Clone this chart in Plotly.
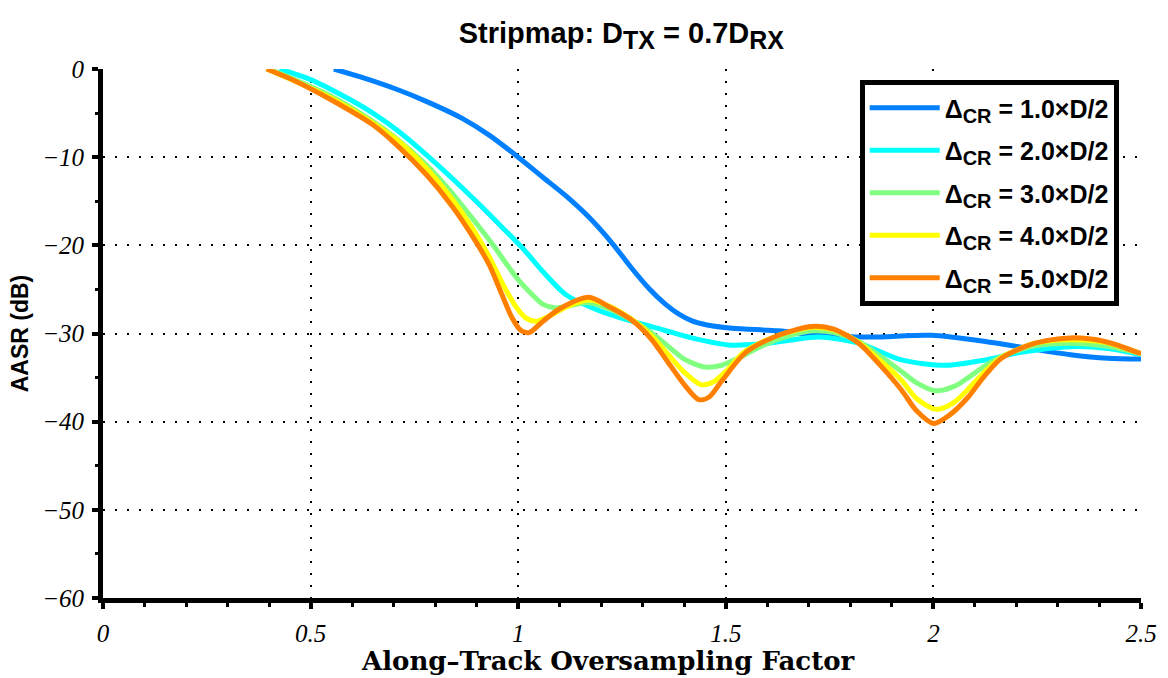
import plotly.graph_objects as go

# Along-track oversampling factor vs AASR for several cross-track spacings
labels = ["1.0", "2.0", "3.0", "4.0", "5.0"]
colors = ["#0080FF", "#00FFFF", "#80FF80", "#FFFF00", "#FF8000"]

x_10 = [0.556, 0.62, 0.707, 0.78, 0.865, 0.93, 1.0, 1.06, 1.115, 1.17, 1.227, 1.27,
        1.315, 1.355, 1.387, 1.42, 1.452, 1.515, 1.627, 1.724, 1.85, 1.995, 2.125,
        2.23, 2.33, 2.42, 2.5]
y_10 = [0, -0.9, -2.3, -3.7, -5.6, -7.5, -10.0, -12.3, -14.4, -16.8, -19.8, -22.4,
        -24.9, -26.7, -27.8, -28.6, -29.0, -29.4, -29.7, -30.2, -30.4, -30.2, -30.9,
        -31.7, -32.4, -32.8, -32.9]

x_20 = [0.425, 0.5, 0.6, 0.65, 0.707, 0.785, 0.89, 0.954, 1.014, 1.06, 1.115, 1.195,
        1.274, 1.35, 1.418, 1.507, 1.58, 1.65, 1.724, 1.82, 1.923, 2.03, 2.125, 2.204,
        2.33, 2.42, 2.5]
y_20 = [0, -1.2, -3.6, -5.0, -6.9, -10.0, -14.6, -17.6, -20.5, -23.0, -25.6, -27.4,
        -28.6, -29.6, -30.5, -31.3, -31.2, -30.8, -30.4, -31.1, -33.0, -33.6, -33.0,
        -32.2, -31.5, -31.7, -32.4]

x_30 = [0.40, 0.546, 0.649, 0.707, 0.779, 0.834, 0.889, 0.94, 0.97, 1.0, 1.034, 1.06,
        1.09, 1.12, 1.17, 1.22, 1.274, 1.32, 1.36, 1.40, 1.45, 1.49, 1.53, 1.587, 1.65,
        1.71, 1.76, 1.82, 1.87, 1.923, 1.96, 2.005, 2.05, 2.084, 2.12, 2.164, 2.245,
        2.33, 2.413, 2.5]
y_30 = [0, -3.0, -5.9, -7.9, -10.9, -13.7, -16.9, -20.0, -22.0, -23.9, -25.6, -26.7,
        -27.1, -26.9, -26.5, -27.2, -28.5, -29.9, -31.4, -32.9, -33.8, -33.6, -32.8,
        -31.4, -30.3, -29.7, -29.9, -30.9, -32.5, -34.3, -35.6, -36.5, -36.0, -35.0,
        -33.8, -32.6, -31.4, -31.1, -31.4, -32.3]

x_40 = [0.395, 0.546, 0.63, 0.707, 0.78, 0.84, 0.889, 0.93, 0.965, 0.995, 1.02, 1.045,
        1.08, 1.12, 1.17, 1.22, 1.274, 1.32, 1.36, 1.40, 1.44, 1.47, 1.50, 1.547,
        1.627, 1.71, 1.76, 1.82, 1.87, 1.923, 1.96, 2.007, 2.05, 2.084, 2.12, 2.164,
        2.245, 2.33, 2.413, 2.5]
y_40 = [0, -3.2, -5.5, -8.0, -11.3, -14.7, -18.0, -21.3, -24.6, -27.0, -28.3, -28.6,
        -27.9, -26.9, -26.2, -26.9, -28.4, -30.2, -32.3, -34.4, -35.8, -35.5, -34.3,
        -32.0, -30.2, -29.3, -29.6, -31.0, -33.0, -35.3, -37.4, -38.6, -37.8, -36.3,
        -34.5, -32.7, -31.1, -30.7, -31.0, -32.3]

x_50 = [0.394, 0.46, 0.546, 0.649, 0.707, 0.779, 0.84, 0.889, 0.93, 0.96, 0.985, 1.005,
        1.026, 1.06, 1.1, 1.17, 1.22, 1.274, 1.32, 1.36, 1.40, 1.435, 1.46, 1.49, 1.547,
        1.627, 1.707, 1.76, 1.82, 1.87, 1.923, 1.96, 2.0, 2.04, 2.084, 2.12, 2.164,
        2.245, 2.33, 2.413, 2.5]
y_50 = [0, -1.3, -3.4, -6.3, -8.6, -12.0, -15.5, -18.9, -22.2, -25.5, -28.2, -29.6,
        -29.9, -28.6, -27.2, -25.9, -27.0, -28.5, -30.6, -33.2, -35.8, -37.5, -37.2,
        -35.4, -32.2, -30.2, -29.2, -29.5, -31.1, -33.5, -36.4, -38.8, -40.2, -39.2,
        -37.2, -35.0, -32.8, -31.1, -30.5, -30.9, -32.3]

series = [(x_10, y_10), (x_20, y_20), (x_30, y_30), (x_40, y_40), (x_50, y_50)]

x_ticks = [0, 0.5, 1, 1.5, 2, 2.5]
x_ticktext = ["0", "0.5", "1", "1.5", "2", "2.5"]
y_ticks = [0, -10, -20, -30, -40, -50, -60]


def sub(txt, px):
    return f'<sub><span style="font-size:{px}px">{txt}</span></sub>'


fig = go.Figure()
for (xs, ys), lab, col in zip(series, labels, colors):
    fig.add_trace(go.Scatter(
        x=xs, y=ys, mode="lines",
        line=dict(color=col, width=5, shape="spline", smoothing=0.8),
        name=f"Δ{sub('CR', 20)} = {lab}×D/2",
        legendgroup=lab,
    ))

tick_font = dict(family="Liberation Serif", size=25, color="black", style="italic")

fig.update_layout(
    width=1168, height=678,
    margin=dict(l=103, r=27, t=69, b=80, autoexpand=False),
    paper_bgcolor="white", plot_bgcolor="white",
    title=dict(
        text=f"Stripmap: D{sub('TX', 25)} = 0.7D{sub('RX', 25)}",
        font=dict(family="Liberation Sans", size=29, color="black", weight="bold"),
        x=0.532, xanchor="center", y=0.952, yanchor="middle",
    ),
    legend=dict(
        x=0.729, y=0.979, xanchor="left", yanchor="top",
        bgcolor="white", bordercolor="black", borderwidth=5,
        font=dict(family="Liberation Sans", size=25, color="black", weight="bold"),
        itemwidth=70, tracegroupgap=7,
    ),
    showlegend=True,
    annotations=[dict(
        text="Along–Track Oversampling Factor",
        xref="paper", yref="paper", x=0.4865, y=-0.119,
        xanchor="center", yanchor="middle", showarrow=False,
        font=dict(family="DejaVu Serif", size=26, color="black", weight="bold"),
    )],
)

fig.update_xaxes(
    range=[0, 2.5], tickvals=x_ticks, ticktext=x_ticktext, automargin=False,
    showline=True, linecolor="black", linewidth=5,
    ticks="outside", ticklen=6, tickwidth=4, tickcolor="black",
    tickfont=tick_font, ticklabelstandoff=3,
    showgrid=True, gridcolor="black", gridwidth=2, griddash="2px,10px",
    zeroline=False,
    minor=dict(dtick=0.1, ticks="outside", ticklen=4, tickwidth=3, tickcolor="black",
               showgrid=False),
)
fig.update_yaxes(
    range=[-60, 0], tickvals=y_ticks, automargin=False,
    showline=True, linecolor="black", linewidth=5,
    ticks="outside", ticklen=6, tickwidth=4, tickcolor="black",
    tickfont=tick_font, ticklabelstandoff=3,
    showgrid=True, gridcolor="black", gridwidth=2, griddash="2px,10px",
    zeroline=False,
    minor=dict(dtick=5, ticks="outside", ticklen=3, tickwidth=3, tickcolor="black",
               showgrid=False),
    title=dict(text="AASR (dB)",
               font=dict(family="Liberation Sans", size=23, color="black", weight="bold"),
               standoff=9),
)

fig.write_html("out.html")
